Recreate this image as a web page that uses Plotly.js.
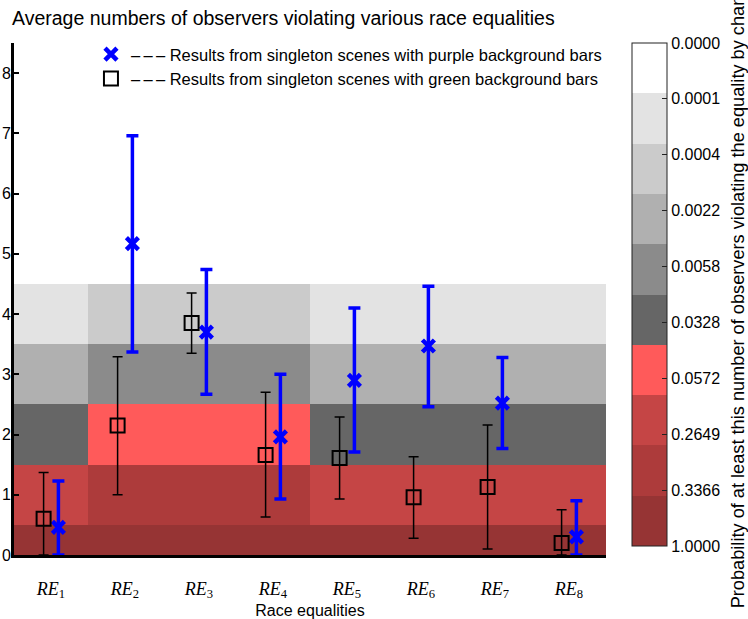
<!DOCTYPE html>
<html>
<head>
<meta charset="utf-8">
<script src="https://cdn.plot.ly/plotly-3.0.1.min.js"></script>
<style>html,body{margin:0;padding:0;background:#fff;}#chart{width:748px;height:619px;}</style>
</head>
<body>
<div id="chart"></div>
<script>
// ---- data ----
const categories = ['<i>RE</i><sub>1</sub>','<i>RE</i><sub>2</sub>','<i>RE</i><sub>3</sub>','<i>RE</i><sub>4</sub>',
                    '<i>RE</i><sub>5</sub>','<i>RE</i><sub>6</sub>','<i>RE</i><sub>7</sub>','<i>RE</i><sub>8</sub>'];
const catIndex = [1,2,3,4,5,6,7,8];

// purple background bars (blue X)
const purpleMean = [0.46, 5.17, 3.70, 1.96, 2.90, 3.47, 2.52, 0.30];
const purpleLow  = [0.00, 3.37, 2.67, 0.93, 1.71, 2.46, 1.77, 0.00];
const purpleHigh = [1.23, 6.96, 4.74, 3.00, 4.10, 4.46, 3.28, 0.90];

// green background bars (black squares)
const greenMean = [0.60, 2.15, 3.85, 1.66, 1.61, 0.96, 1.13, 0.20];
const greenLow  = [0.00, 1.00, 3.35, 0.63, 0.93, 0.28, 0.10, 0.00];
const greenHigh = [1.37, 3.29, 4.35, 2.70, 2.29, 1.63, 2.16, 0.75];

// background probability cells: column edges, row edges, band index per cell (rows bottom->top, cols left->right)
const columnEdges = [0.5, 1.5, 4.5, 8.5];
const rowEdges = [0, 0.5, 1.5, 2.5, 3.5, 4.5, 8.5];
const cellBand = [
  [0, 0, 0],
  [2, 1, 2],
  [4, 3, 4],
  [6, 5, 6],
  [8, 7, 8],
  [9, 9, 9]
];

// colour bands bottom -> top and colorbar labels bottom -> top
const bandColors = ['#963434','#ad3b3b','#c54545','#ff5a5a','#666666','#8b8b8b','#b0b0b0','#cbcbcb','#e3e3e3','#ffffff'];
const probLabels = ['1.0000','0.3366','0.2649','0.0572','0.0328','0.0058','0.0022','0.0004','0.0001','0.0000'];
const colorbarTitle = 'Probability of at least this number of observers violating the equality by chance';

// ---- build ----
const nb = bandColors.length;
const colorscale = [];
bandColors.forEach((c,i)=>{ colorscale.push([i/nb, c]); colorscale.push([(i+1)/nb, c]); });
const zCells = cellBand.map(r => r.map(b => b + 0.5));
const cbTickVals = probLabels.map((_,k) => k * nb / (probLabels.length - 1));

const FAM = 'Liberation Sans, Arial, sans-serif';
const off = 0.1;
const heat = {
  type: 'heatmap', x: columnEdges, y: rowEdges, z: zCells,
  zmin: 0, zmax: nb, colorscale: colorscale, showscale: true, hoverinfo: 'skip',
  colorbar: {
    x: 1.044, xanchor: 'left', xpad: 0, y: 1, yanchor: 'top', ypad: 0,
    thickness: 35, thicknessmode: 'pixels', len: 503, lenmode: 'pixels',
    outlinewidth: 1, outlinecolor: '#222',
    tickmode: 'array', tickvals: cbTickVals, ticktext: probLabels,
    ticks: 'inside', ticklen: 5, tickcolor: '#222', tickwidth: 1,
    tickfont: {family: FAM, size: 16, color: '#000'}
  }
};

const dash = '\u2013\u2009\u2013\u2009\u2013 ';
const blue = {
  type: 'scatter', mode: 'markers', name: dash + 'Results from singleton scenes with purple background bars',
  x: catIndex.map(v => v + off), y: purpleMean,
  marker: {symbol: 'x-thin', size: 12, color: '#0000ff', line: {color: '#0000ff', width: 4.5}},
  error_y: {type: 'data', symmetric: false,
    array: purpleHigh.map((h,i) => h - purpleMean[i]),
    arrayminus: purpleLow.map((l,i) => purpleMean[i] - l),
    color: '#0000ff', thickness: 3.5, width: 6},
  hoverinfo: 'skip', cliponaxis: false
};

const black = {
  type: 'scatter', mode: 'markers', name: dash + 'Results from singleton scenes with green background bars',
  x: catIndex.map(v => v - off), y: greenMean,
  marker: {symbol: 'square-open', size: 14, color: '#000', line: {color: '#000', width: 2}},
  error_y: {type: 'data', symmetric: false,
    array: greenHigh.map((h,i) => h - greenMean[i]),
    arrayminus: greenLow.map((l,i) => greenMean[i] - l),
    color: '#000', thickness: 1.5, width: 5},
  hoverinfo: 'skip', cliponaxis: false
};

const font = {family: FAM, size: 16, color: '#000'};
const layout = {
  width: 748, height: 619,
  margin: {l: 14, r: 142, t: 43, b: 64, pad: 0},
  paper_bgcolor: '#fff', plot_bgcolor: '#fff',
  font: font,
  showlegend: true,
  title: {text: 'Average numbers of observers violating various race equalities',
          x: 12/748, xanchor: 'left', xref: 'container', y: 1 - 18/619, yanchor: 'middle', yref: 'container',
          font: {family: FAM, size: 19.5, color: '#000'}},
  legend: {x: 0.13, xanchor: 'left', y: 1.012, yanchor: 'top', bgcolor: 'rgba(0,0,0,0)',
           font: {family: FAM, size: 16.5, color: '#000'}, tracegroupgap: 0},
  annotations: [{text: colorbarTitle, textangle: -90, showarrow: false,
                 xref: 'paper', yref: 'paper', x: (738 - 14) / 592, y: 0.513, xanchor: 'center', yanchor: 'middle',
                 font: {family: FAM, size: 18.2, color: '#000'}}],
  xaxis: {range: [0.5, 8.5], tickmode: 'array', tickvals: catIndex, ticktext: categories,
          tickfont: {family: 'Liberation Serif, DejaVu Serif, serif', size: 18, color: '#000'},
          ticks: 'outside', ticklen: 15, tickcolor: 'rgba(0,0,0,0)',
          showline: true, linecolor: '#000', linewidth: 3, mirror: false,
          showgrid: false, zeroline: false, automargin: false,
          title: {text: 'Race equalities', font: font, standoff: 6}},
  yaxis: {range: [0, 8.5], tickmode: 'array', tickvals: [0,1,2,3,4,5,6,7,8],
          ticks: 'inside', ticklen: 5, tickwidth: 2, tickcolor: '#000', ticklabelstandoff: -3,
          tickfont: font, showline: true, linecolor: '#000', linewidth: 3, mirror: false,
          showgrid: false, zeroline: false, automargin: false}
};

Plotly.newPlot('chart', [heat, blue, black], layout, {displayModeBar: false, staticPlot: true});
</script>
</body>
</html>
